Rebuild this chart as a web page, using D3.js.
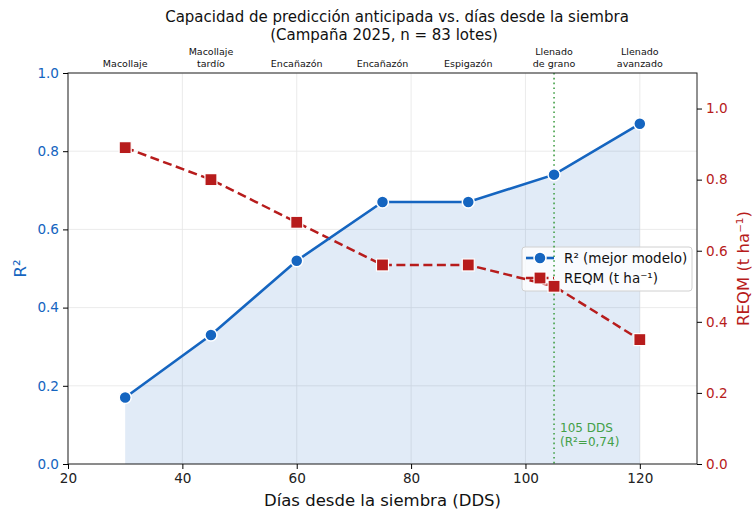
<!DOCTYPE html>
<html>
<head>
<meta charset="utf-8">
<script src="https://cdn.jsdelivr.net/npm/d3@7"></script>
<style>
  body { margin: 0; background: #fff; }
  svg, svg text { font-family: "DejaVu Sans", sans-serif; }
</style>
</head>
<body>
<div id="chart"></div>
<script>
// data
const days = [30, 45, 60, 75, 90, 105, 120];
const stages = ["Macollaje", "Macollaje\ntardío", "Encañazón", "Encañazón", "Espigazón", "Llenado\nde grano", "Llenado\navanzado"];
const r2 = [0.17, 0.33, 0.52, 0.67, 0.67, 0.74, 0.87];
const reqm = [0.89, 0.80, 0.68, 0.56, 0.56, 0.50, 0.35];
const xTicks = [20, 40, 60, 80, 100, 120];
const yTicks = [0, 0.2, 0.4, 0.6, 0.8, 1.0];
const markDay = 105;
const markR2 = "0,74";

const width = 752, height = 513;
const margin = { top: 73, right: 55, bottom: 49, left: 68 };
const blue = "#1565c0", red = "#b71c1c", green = "#43a047";

const svg = d3.select("#chart").append("svg")
  .attr("width", width)
  .attr("height", height);

const x = d3.scaleLinear().domain([20, 130]).range([margin.left, width - margin.right]);
const y = d3.scaleLinear().domain([0, 1]).range([height - margin.bottom, margin.top]);
const y2 = d3.scaleLinear().domain([0, 1.1]).range([height - margin.bottom, margin.top]);

// grid
const grid = svg.append("g").attr("stroke", "#e6e6e6").attr("stroke-width", 0.8);
grid.selectAll(".gx").data(xTicks).join("line")
  .attr("x1", d => x(d)).attr("x2", d => x(d))
  .attr("y1", margin.top).attr("y2", height - margin.bottom);
grid.selectAll(".gy").data(yTicks).join("line")
  .attr("x1", margin.left).attr("x2", width - margin.right)
  .attr("y1", d => y(d)).attr("y2", d => y(d));

// area under R²
svg.append("path")
  .datum(days.map((d, i) => [d, r2[i]]))
  .attr("fill", blue).attr("fill-opacity", 0.13)
  .attr("d", d3.area().x(d => x(d[0])).y0(y(0)).y1(d => y(d[1])));

// legend frame (drawn under the lines, like the reference)
const lg = svg.append("g").attr("transform", "translate(522,247)");
lg.append("rect").attr("width", 170).attr("height", 44).attr("rx", 3)
  .attr("fill", "#fff").attr("fill-opacity", 0.8).attr("stroke", "#d0d0d0");

// marker line at 105 DDS
svg.append("line")
  .attr("x1", x(markDay)).attr("x2", x(markDay))
  .attr("y1", margin.top).attr("y2", height - margin.bottom)
  .attr("stroke", green).attr("stroke-width", 1.6)
  .attr("stroke-dasharray", "1.6,3.2");
const note = svg.append("text")
  .attr("x", x(markDay) + 6).attr("y", 432)
  .attr("fill", green).attr("font-size", 12);
note.append("tspan").attr("x", x(markDay) + 6).text(markDay + " DDS");
note.append("tspan").attr("x", x(markDay) + 6).attr("dy", 14).text("(R²=" + markR2 + ")");

// REQM line
svg.append("path")
  .datum(days.map((d, i) => [d, reqm[i]]))
  .attr("fill", "none").attr("stroke", red).attr("stroke-width", 2.5)
  .attr("stroke-dasharray", "9,4.5")
  .attr("d", d3.line().x(d => x(d[0])).y(d => y2(d[1])));
svg.selectAll(".sq").data(days).join("rect")
  .attr("x", (d, i) => x(d) - 6).attr("y", (d, i) => y2(reqm[i]) - 6)
  .attr("width", 12).attr("height", 12)
  .attr("fill", red).attr("stroke", "#fff").attr("stroke-width", 1.2);

// R² line
svg.append("path")
  .datum(days.map((d, i) => [d, r2[i]]))
  .attr("fill", "none").attr("stroke", blue).attr("stroke-width", 2.6)
  .attr("d", d3.line().x(d => x(d[0])).y(d => y(d[1])));
svg.selectAll(".dot").data(days).join("circle")
  .attr("cx", d => x(d)).attr("cy", (d, i) => y(r2[i]))
  .attr("r", 6)
  .attr("fill", blue).attr("stroke", "#fff").attr("stroke-width", 1.5);

// spines
svg.append("rect")
  .attr("x", margin.left).attr("y", margin.top)
  .attr("width", width - margin.left - margin.right)
  .attr("height", height - margin.top - margin.bottom)
  .attr("fill", "none").attr("stroke", "#222").attr("stroke-width", 1);

// axes
const xAxis = svg.append("g")
  .attr("transform", `translate(0,${height - margin.bottom})`)
  .call(d3.axisBottom(x).tickValues(xTicks).tickSize(5).tickPadding(4));
xAxis.attr("font-family", null).select(".domain").remove();
xAxis.selectAll("text").attr("font-size", 13.6).attr("fill", "#222");

const yAxis = svg.append("g")
  .attr("transform", `translate(${margin.left},0)`)
  .call(d3.axisLeft(y).tickValues(yTicks).tickFormat(d3.format(".1f")).tickSize(5).tickPadding(4));
yAxis.attr("font-family", null).select(".domain").remove();
yAxis.selectAll("text").attr("font-size", 13.6).attr("fill", blue);

const y2Axis = svg.append("g")
  .attr("transform", `translate(${width - margin.right},0)`)
  .call(d3.axisRight(y2).tickValues(yTicks).tickFormat(d3.format(".1f")).tickSize(5).tickPadding(4));
y2Axis.attr("font-family", null).select(".domain").remove();
y2Axis.selectAll("text").attr("font-size", 13.6).attr("fill", red);

// top stage labels
const stageG = svg.append("g").attr("font-size", 9.5).attr("fill", "#111").attr("text-anchor", "middle");
days.forEach((d, i) => {
  const lines = stages[i].split("\n");
  const t = stageG.append("text").attr("x", x(d)).attr("y", 67 - (lines.length - 1) * 12);
  lines.forEach((l, j) => t.append("tspan").attr("x", x(d)).attr("dy", j ? 12 : 0).text(l));
});

// axis titles
svg.append("text")
  .attr("x", (margin.left + width - margin.right) / 2).attr("y", 506)
  .attr("text-anchor", "middle").attr("font-size", 16.5).attr("fill", "#111")
  .text("Días desde la siembra (DDS)");
svg.append("text")
  .attr("transform", `translate(26,${(margin.top + height - margin.bottom) / 2}) rotate(-90)`)
  .attr("text-anchor", "middle").attr("font-size", 16.5).attr("fill", blue)
  .text("R²");
svg.append("text")
  .attr("transform", `translate(749,${(margin.top + height - margin.bottom) / 2}) rotate(-90)`)
  .attr("text-anchor", "middle").attr("font-size", 16.5).attr("fill", red)
  .text("REQM (t ha⁻¹)");

// title
const title = svg.append("text")
  .attr("text-anchor", "middle").attr("font-size", 15).attr("fill", "#111");
title.append("tspan").attr("x", 397).attr("y", 22)
  .text("Capacidad de predicción anticipada vs. días desde la siembra");
title.append("tspan").attr("x", 384).attr("y", 40)
  .text("(Campaña 2025, n = 83 lotes)");

// legend handles and labels
const lh = svg.append("g").attr("transform", "translate(522,247)");
lh.append("line").attr("x1", 4).attr("x2", 32).attr("y1", 11).attr("y2", 11)
  .attr("stroke", blue).attr("stroke-width", 2.6);
lh.append("circle").attr("cx", 18).attr("cy", 11).attr("r", 6)
  .attr("fill", blue).attr("stroke", "#fff").attr("stroke-width", 1.5);
lh.append("line").attr("x1", 4).attr("x2", 32).attr("y1", 31).attr("y2", 31)
  .attr("stroke", red).attr("stroke-width", 2.5).attr("stroke-dasharray", "9,4.5");
lh.append("rect").attr("x", 12).attr("y", 25).attr("width", 12).attr("height", 12)
  .attr("fill", red).attr("stroke", "#fff").attr("stroke-width", 1.2);
lh.append("text").attr("x", 42).attr("y", 16).attr("font-size", 13.5).attr("fill", "#111")
  .text("R² (mejor modelo)");
lh.append("text").attr("x", 42).attr("y", 36).attr("font-size", 13.5).attr("fill", "#111")
  .text("REQM (t ha⁻¹)");
</script>
</body>
</html>
